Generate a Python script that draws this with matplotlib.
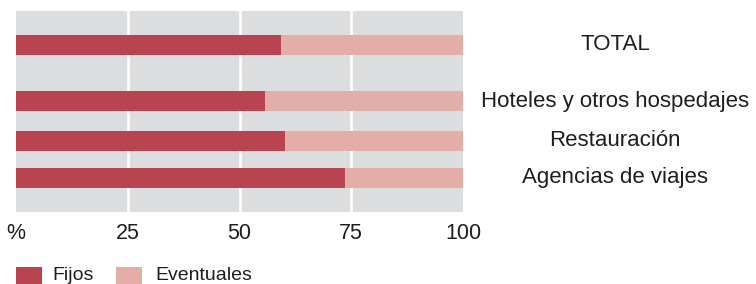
import matplotlib
matplotlib.use("Agg")
import matplotlib.pyplot as plt
from matplotlib.patches import Rectangle

categories = ["TOTAL", "Hoteles y otros hospedajes", "Restauración", "Agencias de viajes"]
fijos = [59.3, 55.7, 60.2, 73.6]
eventuales = [100 - v for v in fijos]
tick_values = [0, 25, 50, 75, 100]
tick_labels = ["%", "25", "50", "75", "100"]
series_names = ["Fijos", "Eventuales"]

c_fijos = "#B9444F"
c_event = "#E3ADA8"
c_bg = "#DCDDDF"
c_txt = "#1e1e1e"

W, H = 756, 284
fig = plt.figure(figsize=(W / 100, H / 100), dpi=100)
plt.rcParams["font.family"] = ["Liberation Sans", "DejaVu Sans"]

L, R, T, B = 16, 463, 11, 212
ax = fig.add_axes([L / W, (H - B) / H, (R - L) / W, (B - T) / H])
ax.set_facecolor(c_bg)
ax.set_xlim(0, 100)
ax.set_ylim(B, T)
ypos = [45, 101, 141, 178]
bar_h = 20

ax.barh(ypos, fijos, height=bar_h, color=c_fijos, zorder=3, linewidth=0)
ax.barh(ypos, eventuales, left=fijos, height=bar_h, color=c_event, zorder=3, linewidth=0)

for v in tick_values[1:-1]:
    ax.axvline(v, color="white", lw=1.9, zorder=2)

for s in ax.spines.values():
    s.set_visible(False)
ax.set_yticks([])
ax.set_xticks(tick_values)
ax.set_xticklabels(tick_labels, fontsize=15.5, color=c_txt)
ax.tick_params(axis="x", length=0, pad=8)

for y, c in zip(ypos, categories):
    ax.text(615 / W, 1 - y / H, c, transform=fig.transFigure, ha="center", va="center",
            fontsize=16, color=c_txt)

sq = 26
for x0, tx, col, name in [(16, 52, c_fijos, series_names[0]), (116, 155, c_event, series_names[1])]:
    fig.patches.append(Rectangle((x0 / W, 0), sq / W, 17 / H,
                                 transform=fig.transFigure, color=col, lw=0))
    fig.text(tx / W, 1 - 275 / H, name, ha="left", va="center", fontsize=14, color=c_txt)

fig.savefig("out.png", dpi=100)
